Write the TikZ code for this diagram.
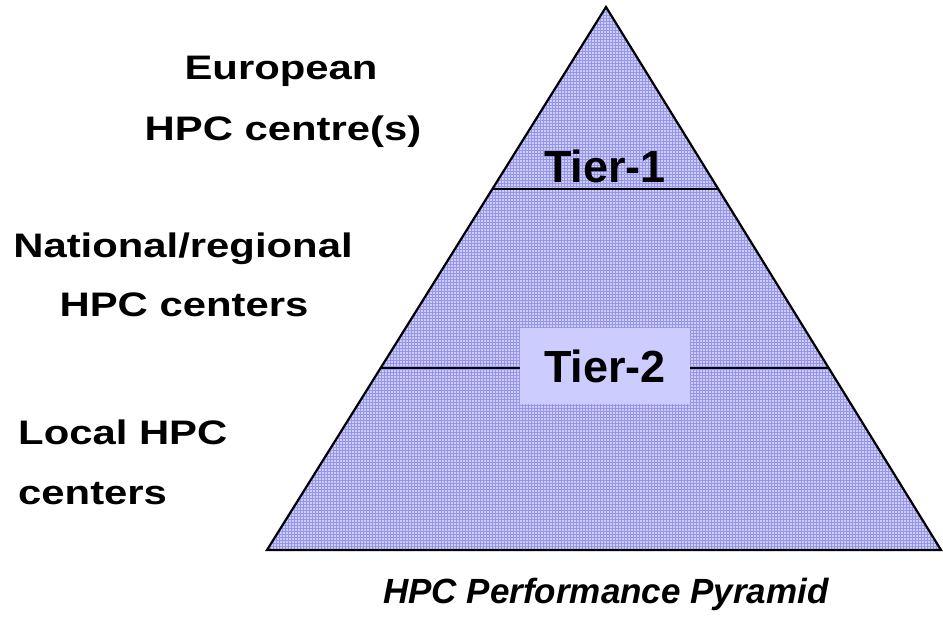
\documentclass[tikz,border=0pt]{standalone}
\usepackage{fontspec}
\setmainfont{Liberation Sans}
\usetikzlibrary{patterns}
\definecolor{tierfill}{RGB}{204,204,255}
\definecolor{tiergrid}{RGB}{150,150,228}
% wide setting for the side labels
\newcommand{\widetext}[1]{\scalebox{1.23}[1]{#1}}
\begin{document}
\begin{tikzpicture}[x=1pt,y=-1pt,
  sidelabel/.style={font=\fontsize{34}{40}\selectfont\bfseries, inner sep=0pt},
  tierlabel/.style={font=\fontsize{45}{50}\selectfont\bfseries, inner sep=0pt},
  caption/.style={font=\fontsize{35}{40}\selectfont\bfseries\itshape, inner sep=0pt},
  divider/.style={line width=1.6pt},
  outline/.style={line width=2.2pt, line join=miter}]
\useasboundingbox (0,0) rectangle (943,621);

% pyramid corners
\coordinate (apex) at (606,7);
\coordinate (bl) at (267,550);
\coordinate (br) at (941,550);

% body of the pyramid with a fine grid texture
\fill[tierfill] (apex) -- (bl) -- (br) -- cycle;
\fill[pattern=grid, pattern color=tiergrid] (apex) -- (bl) -- (br) -- cycle;

% tier dividers
\path (apex) -- (bl) coordinate[pos=0.3352] (t1l);
\path (apex) -- (br) coordinate[pos=0.3352] (t1r);
\path (apex) -- (bl) coordinate[pos=0.6648] (t2l);
\path (apex) -- (br) coordinate[pos=0.6648] (t2r);
\draw[divider] (t1l) -- (t1r);
\draw[divider] (t2l) -- (t2r);

\draw[outline] (apex) -- (bl) -- (br) -- cycle;

% tier labels
\node[tierlabel] (tier1) at (605,166) {Tier-1};
\node[tierlabel, fill=tierfill, minimum width=170pt, minimum height=76pt] (tier2) at (605,366) {Tier-2};

% side labels
\node[sidelabel] (eu1) at (281,71) {\widetext{European}};
\node[sidelabel] (eu2) at (283,132) {\widetext{HPC centre(s)}};
\node[sidelabel] (nat1) at (183,249) {\widetext{National/regional}};
\node[sidelabel] (nat2) at (184,305) {\widetext{HPC centers}};
\node[sidelabel, anchor=west] (loc1) at (18,432) {\widetext{Local HPC}};
\node[sidelabel, anchor=west] (loc2) at (18,494) {\widetext{centers}};

% caption
\node[caption] (cap) at (606,594) {HPC Performance Pyramid};
\end{tikzpicture}
\end{document}
